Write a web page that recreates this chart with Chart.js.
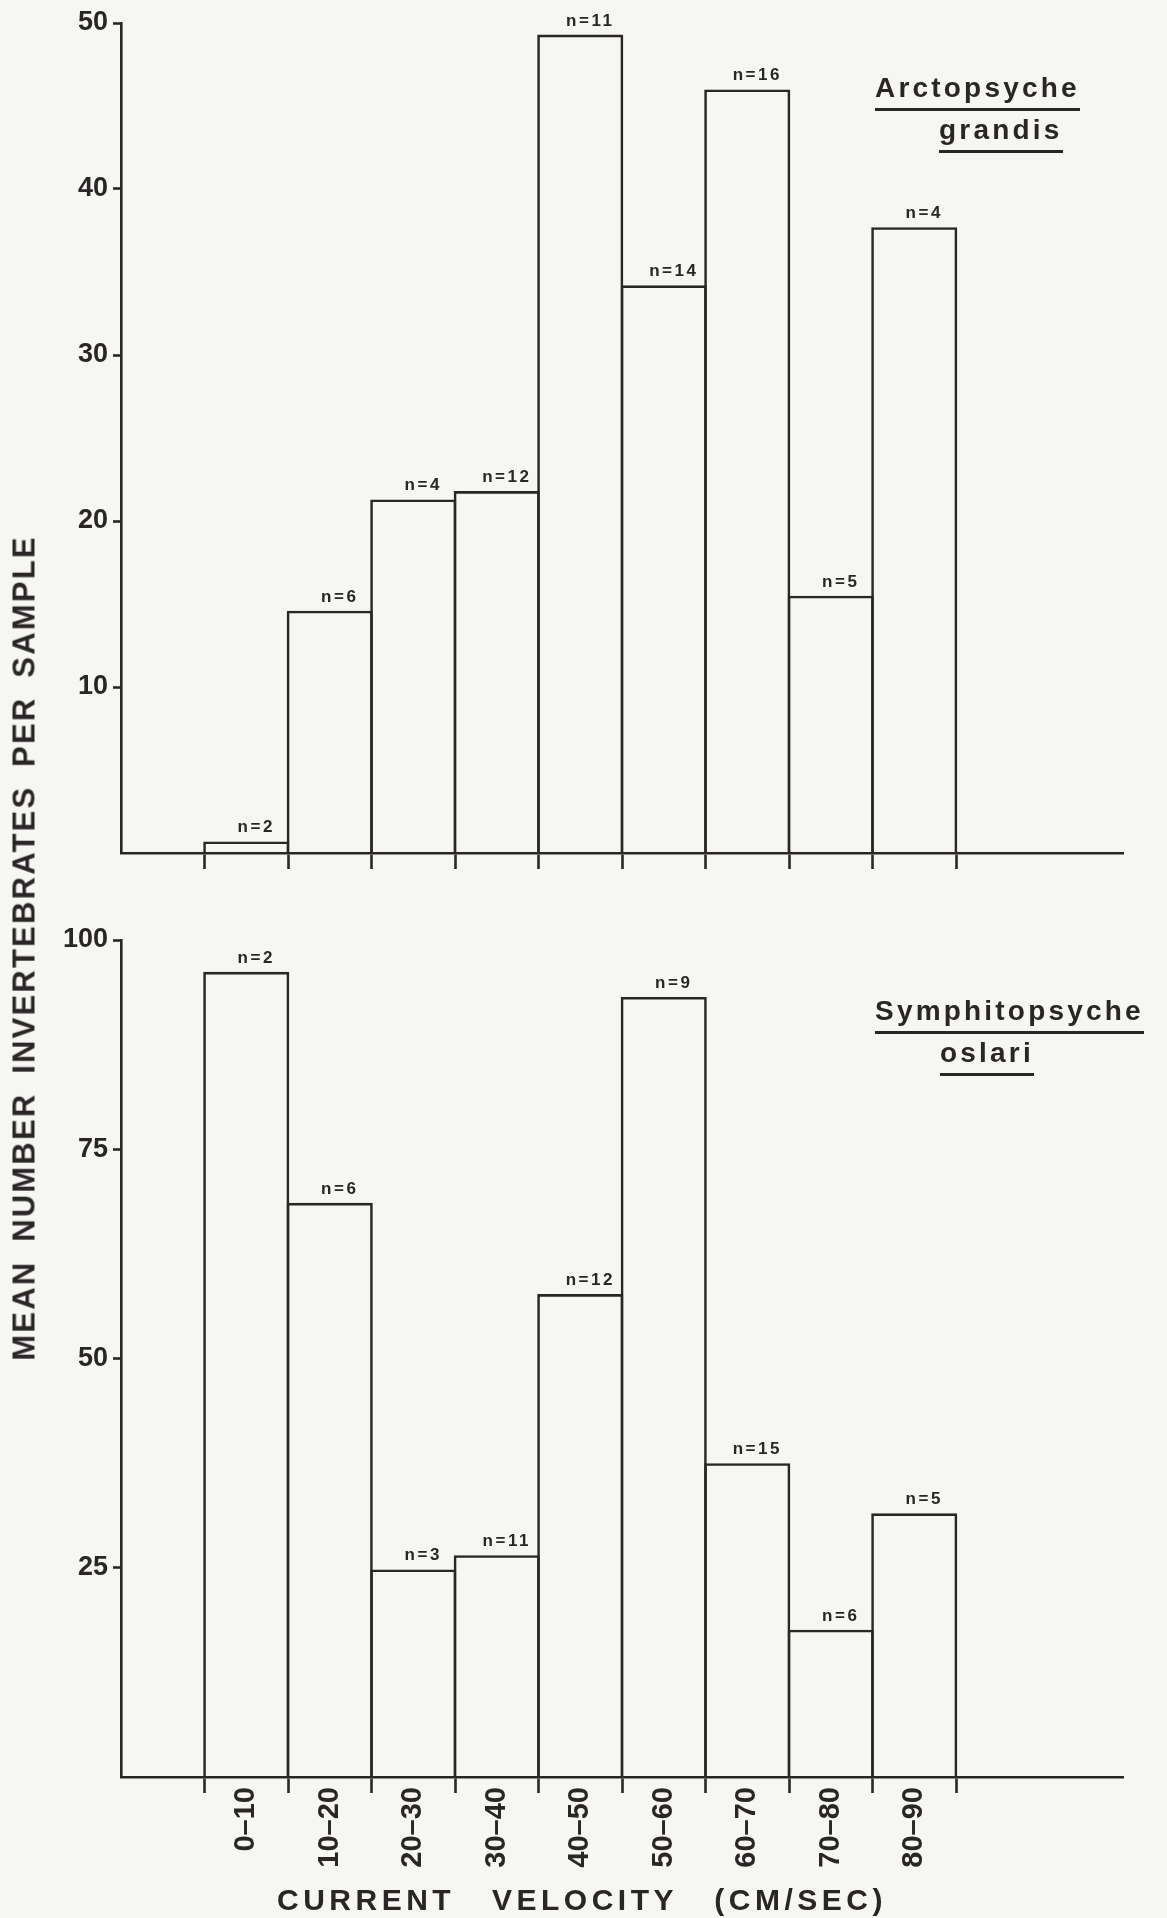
<!DOCTYPE html>
<html>
<head>
<meta charset="utf-8">
<title>Mean number of invertebrates per sample by current velocity</title>
<script src="https://cdn.jsdelivr.net/npm/chart.js@4.4.1/dist/chart.umd.min.js"></script>
<style>
  html, body { margin: 0; padding: 0; background: #f6f6f3; }
  #fig { position: relative; width: 1167px; height: 1918px; overflow: hidden; }
  .panel { position: absolute; left: 0; width: 1167px; }
  #topPanel { top: 0; height: 900px; }
  #bottomPanel { top: 900px; height: 1018px; }
  .txt { position: absolute; white-space: nowrap; color: #2a2628;
         font-family: 'Liberation Sans', Arial, sans-serif; font-weight: bold; }
  .species { font-size: 28px; line-height: 28px; letter-spacing: 3.2px; }
  .species span { display: inline-block; border-bottom: 3px solid #2a2628; padding-bottom: 6px; }
  #yTitle { left: 24px; top: 948px; font-size: 31px; line-height: 31px; letter-spacing: 2.2px; word-spacing: 8px;
            transform: translate(-50%, -50%) rotate(-90deg); }
  #xTitle { left: 582px; top: 1885px; font-size: 30px; line-height: 30px; letter-spacing: 4.5px; word-spacing: 24px;
            transform: translateX(-50%); }
</style>
</head>
<body>
<div id="fig">
  <div class="panel" id="topPanel"><canvas id="topChart"></canvas></div>
  <div class="panel" id="bottomPanel"><canvas id="bottomChart"></canvas></div>

  <div class="txt species" style="left:875px; top:74px;"><span>Arctopsyche</span></div>
  <div class="txt species" style="left:939px; top:116px;"><span>grandis</span></div>
  <div class="txt species" style="left:875px; top:997px;"><span>Symphitopsyche</span></div>
  <div class="txt species" style="left:940px; top:1039px;"><span>oslari</span></div>

  <div class="txt" id="yTitle">MEAN NUMBER INVERTEBRATES PER SAMPLE</div>
  <div class="txt" id="xTitle">CURRENT VELOCITY (CM/SEC)</div>
</div>

<script>
// Current-velocity classes (cm/sec)
const velocityBins = ['0–10', '10–20', '20–30', '30–40', '40–50', '50–60', '60–70', '70–80', '80–90'];

// Arctopsyche grandis: mean number per sample and number of samples
const arctopsycheMeans = [0.7, 14.6, 21.3, 21.8, 49.3, 34.2, 46.0, 15.5, 37.7];
const arctopsycheCounts = [2, 6, 4, 12, 11, 14, 16, 5, 4];

// Symphitopsyche oslari: mean number per sample and number of samples
const symphitopsycheMeans = [96.2, 68.6, 24.8, 26.5, 57.7, 93.2, 37.5, 17.6, 31.5];
const symphitopsycheCounts = [2, 6, 3, 11, 12, 9, 15, 6, 5];

// Labelled y ticks of each panel
const arctopsycheYTicks = [10, 20, 30, 40, 50];
const symphitopsycheYTicks = [25, 50, 75, 100];

const INK = '#2a2628';
const NONE = 'rgba(0,0,0,0)';
const LINE = 2.6;
const FONT = "'Liberation Sans', Arial, sans-serif";

// One empty slot before the first class and two after the last one
const LEAD = 1, TRAIL = 2;
const pad = arr => [...Array(LEAD).fill(null), ...arr, ...Array(TRAIL).fill(null)];
const categories = [...Array(LEAD).fill(''), ...velocityBins, ...Array(TRAIL).fill('')];
const slotWidth = (1123 - 121) / categories.length;

// "n=" sample counts written above each bar
const countLabels = {
  id: 'countLabels',
  afterDatasetsDraw(chart, args, opts) {
    const ctx = chart.ctx;
    const meta = chart.getDatasetMeta(0);
    ctx.save();
    ctx.font = 'bold 17px ' + FONT;
    ctx.fillStyle = INK;
    ctx.textAlign = 'center';
    ctx.textBaseline = 'alphabetic';
    if ('letterSpacing' in ctx) ctx.letterSpacing = '2.5px';
    meta.data.forEach((bar, i) => {
      const n = opts.counts[i];
      if (n == null) return;
      ctx.fillText('n=' + n, bar.x + 10, bar.y - 9);
    });
    ctx.restore();
  }
};

function makePanel(canvasId, means, counts, yMax, yTicks, opts) {
  return new Chart(document.getElementById(canvasId), {
    type: 'bar',
    data: {
      labels: categories,
      datasets: [{
        data: pad(means),
        backgroundColor: NONE,
        borderColor: INK,
        borderWidth: LINE,
        borderSkipped: 'start',
        categoryPercentage: 1,
        barPercentage: 1 + LINE / slotWidth
      }]
    },
    options: {
      responsive: true,
      maintainAspectRatio: false,
      animation: false,
      events: [],
      layout: { autoPadding: false, padding: { top: opts.top, right: 44, bottom: 0, left: 0 } },
      plugins: {
        legend: { display: false },
        tooltip: { enabled: false },
        title: { display: false },
        countLabels: { counts: pad(counts) }
      },
      scales: {
        x: {
          type: 'category',
          offset: true,
          afterFit: s => { s.height = opts.xHeight; },
          border: { display: true, color: INK, width: LINE },
          grid: {
            offset: true,
            drawOnChartArea: false,
            drawTicks: true,
            tickLength: 16,
            tickWidth: LINE,
            tickColor: c => (c.index >= LEAD && c.index <= LEAD + velocityBins.length) ? INK : NONE
          },
          ticks: {
            display: opts.showX,
            autoSkip: false,
            minRotation: 90,
            maxRotation: 90,
            padding: -6,
            color: INK,
            font: { family: FONT, size: 29, weight: 'bold' }
          }
        },
        y: {
          type: 'linear',
          min: 0,
          max: yMax,
          afterFit: s => { s.width = 121; },
          afterBuildTicks: s => { s.ticks = yTicks.map(v => ({ value: v })); },
          border: { display: true, color: INK, width: LINE },
          grid: {
            drawOnChartArea: false,
            drawTicks: true,
            tickLength: 8,
            tickWidth: LINE,
            tickColor: INK
          },
          ticks: {
            padding: 5,
            color: INK,
            font: { family: FONT, size: 27, weight: 'bold' }
          }
        }
      }
    },
    plugins: [countLabels]
  });
}

makePanel('topChart', arctopsycheMeans, arctopsycheCounts, 50, arctopsycheYTicks,
          { top: 23, xHeight: 900 - 853, showX: false });
makePanel('bottomChart', symphitopsycheMeans, symphitopsycheCounts, 100, symphitopsycheYTicks,
          { top: 40, xHeight: 1018 - 877, showX: true });
</script>
</body>
</html>
